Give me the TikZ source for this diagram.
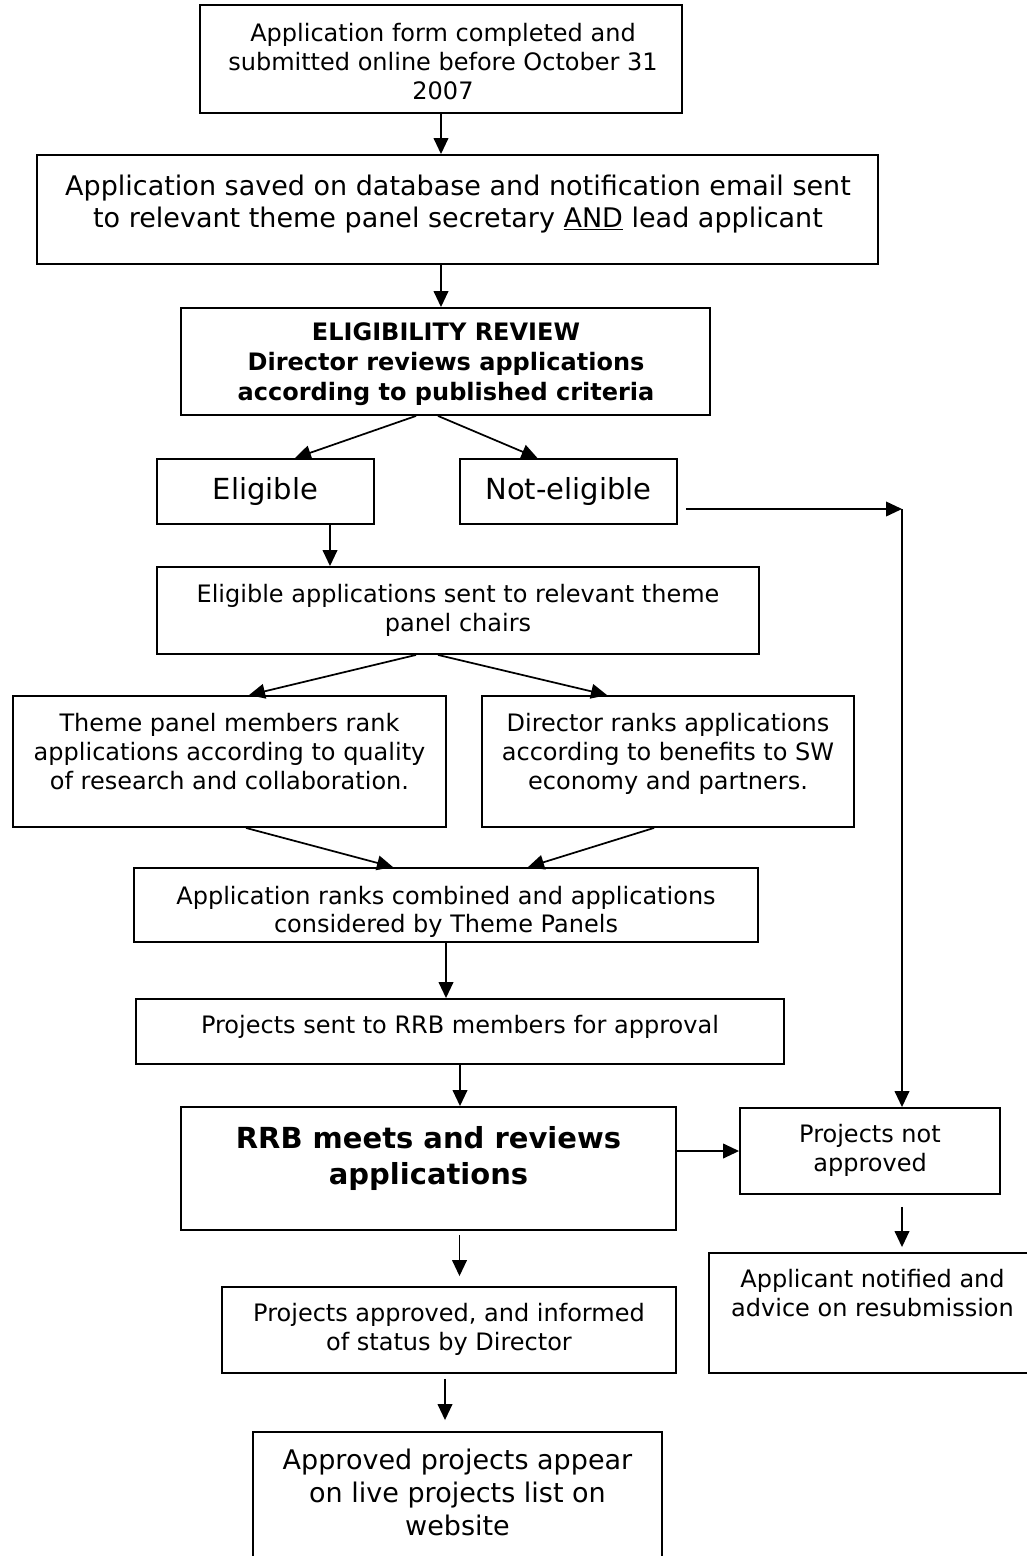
\documentclass[tikz,border=0pt]{standalone}
\usepackage{fontspec}
\setmainfont{DejaVu Sans}
\usetikzlibrary{arrows.meta,fit,calc}
\begin{document}
\begin{tikzpicture}[x=0.75pt,y=-0.75pt,
  box/.style={draw, line width=1.4pt, inner sep=0pt, rectangle},
  txt/.style={inner sep=0pt, align=center, anchor=north},
  fS/.style={font=\fontsize{18}{21.75}\selectfont},
  fM/.style={font=\fontsize{20.25}{24}\selectfont},
  arr/.style={line width=1.3pt, -{Triangle[length=12pt,width=11pt]}}]
\fill[white] (0,0) rectangle (1027,1556);
\useasboundingbox (0,0) rectangle (1027,1556);

% boxes
\node[box, fit={(200,5) (682,113)}] (a) {};
\node[box, fit={(37,155) (878,264)}] (b) {};
\node[box, fit={(181,308) (710,415)}] (c) {};
\node[box, fit={(157,459) (374,524)}] (elig) {};
\node[box, fit={(460,459) (677,524)}] (nelig) {};
\node[box, fit={(157,567) (759,654)}] (ea) {};
\node[box, fit={(13,696) (446,827)}] (theme) {};
\node[box, fit={(482,696) (854,827)}] (dir) {};
\node[box, fit={(134,868) (758,942)}] (comb) {};
\node[box, fit={(136,999) (784,1064)}] (sent) {};
\node[box, fit={(181,1107) (676,1230)}] (rrb) {};
\node[box, fit={(740,1108) (1000,1194)}] (notappr) {};
\node[box, fit={(709,1253) (1036,1373)}] (appl) {};
\node[box, fit={(222,1287) (676,1373)}] (projappr) {};
\node[box, fit={(253,1432) (662,1580)}] (approved) {};

% texts
\node[txt, fS] (ta) at (443,22.6) {Application form completed and\\submitted online before October 31\\2007};
\node[txt, font=\fontsize{20.25}{24}\selectfont] (tb) at (458,174.5) {Application saved on database and notification email sent\\to relevant theme panel secretary \underline{AND} lead applicant};
\node[txt, font=\fontsize{18}{22.5}\selectfont\bfseries] (tc) at (446,322.6) {ELIGIBILITY REVIEW\\Director reviews applications\\according to published criteria};
\node[txt, font=\fontsize{21.75}{27}\selectfont] (telig) at (265.5,476.7) {Eligible};
\node[txt, font=\fontsize{21.75}{27}\selectfont] (tnelig) at (568.5,476.7) {Not-eligible};
\node[txt, fS] (tea) at (458,583.6) {Eligible applications sent to relevant theme\\panel chairs};
\node[txt, fS] (ttheme) at (229.5,712.6) {Theme panel members rank\\applications according to quality\\of research and collaboration.};
\node[txt, fS] (tdir) at (668,712.6) {Director ranks applications\\according to benefits to SW\\economy and partners.};
\node[txt, font=\fontsize{18}{21}\selectfont] (tcomb) at (446,885.6) {Application ranks combined and applications\\considered by Theme Panels};
\node[txt, fS] (tsent) at (460,1014.6) {Projects sent to RRB members for approval};
\node[txt, font=\fontsize{21.75}{27}\selectfont\bfseries] (trrb) at (428.5,1125.7) {RRB meets and reviews\\applications};
\node[txt, fS] (tnotappr) at (870,1123.6) {Projects not\\approved};
\node[txt, fS] (tappl) at (872.5,1268.6) {Applicant notified and\\advice on resubmission};
\node[txt, fS] (tprojappr) at (449,1302.6) {Projects approved, and informed\\of status by Director};
\node[txt, font=\fontsize{20.25}{24.75}\selectfont] (tapproved) at (457.5,1448.5) {Approved projects appear\\on live projects list on\\website};

% connectors
\draw[arr] (a.south) -- (a.south |- b.north);
\draw[arr] (b.south -| a.south) -- (c.north -| a.south);
\draw[arr] ($(c.south)+(-29.5,0)$) -- ($(elig.north)+(29.5,0)$);
\draw[arr] ($(c.south)+(-7.5,0)$) -- ($(nelig.north)+(-31,0)$);
\coordinate (turn) at (902,509);
\draw[arr] ($(nelig.east)+(8,17.5)$) -- (turn);
\draw[arr] (turn) -- (turn |- notappr.north);
\coordinate (e1) at ($(elig.south)+(64.5,0)$);
\draw[arr] (e1) -- (e1 |- ea.north);
\draw[arr] ($(ea.south)+(-42,0)$) -- ($(theme.north)+(19.5,0)$);
\draw[arr] ($(ea.south)+(-20,0)$) -- ($(dir.north)+(-61,0)$);
\draw[arr] ($(theme.south)+(16.5,0)$) -- ($(comb.north)+(-53,0)$);
\draw[arr] ($(dir.south)+(-14,0)$) -- ($(comb.north)+(82,0)$);
\draw[arr] (comb.south) -- (comb.south |- sent.north);
\draw[arr] (sent.south) -- (sent.south |- rrb.north);
\coordinate (r1) at ($(rrb.east)+(0,-17.5)$);
\draw[arr] (r1) -- (r1 -| notappr.west);
\coordinate (n1) at ($(notappr.south)+(32,12)$);
\draw[arr] (n1) -- ($(n1 |- appl.north)+(0,-5)$);
\coordinate (r2) at ($(rrb.south)+(31,4)$);
\draw[arr] (r2) -- ($(r2 |- projappr.north)+(0,-10)$);
\coordinate (p1) at ($(projappr.south)+(-4,5)$);
\draw[arr] (p1) -- ($(p1 |- approved.north)+(0,-11)$);
\end{tikzpicture}
\end{document}
